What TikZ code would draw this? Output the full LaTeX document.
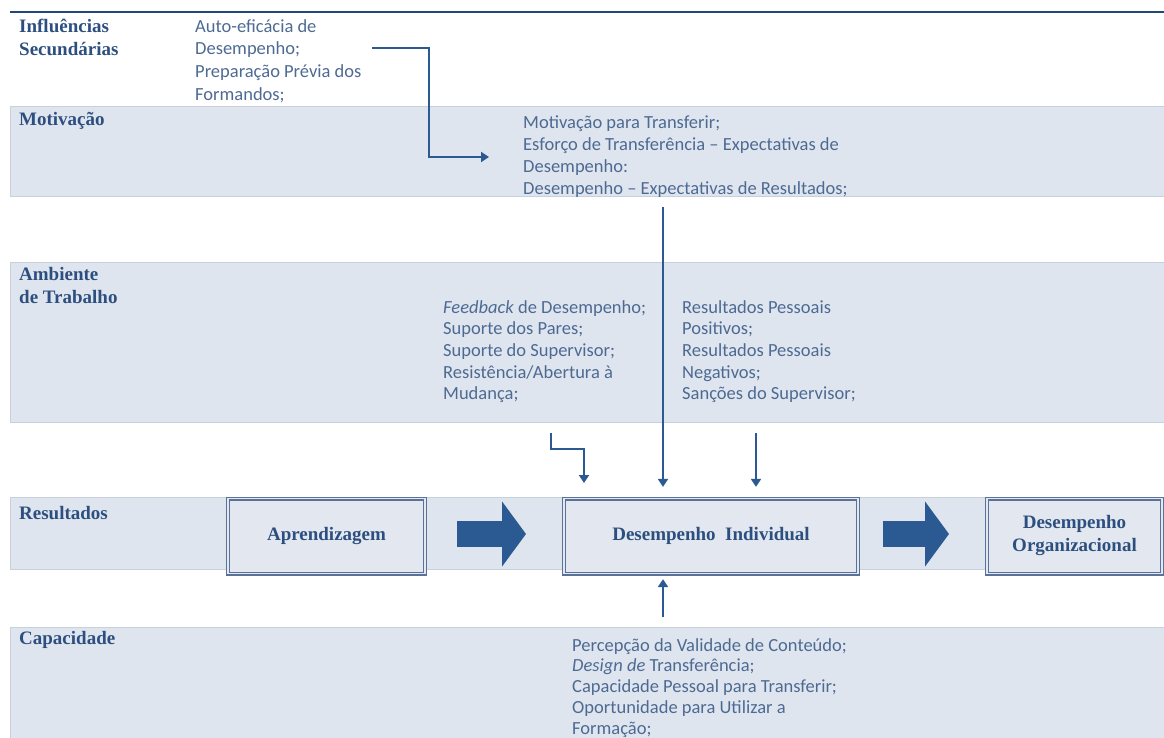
\documentclass[tikz,border=0pt]{standalone}
\usepackage{fontspec}
\setmainfont{Liberation Serif}
\newfontfamily\bodyfont{Carlito}
\usetikzlibrary{arrows.meta}

\definecolor{bandfill}{HTML}{DFE5EE}
\definecolor{bandedge}{HTML}{C8D0DB}
\definecolor{boxfill}{HTML}{E3E8F0}
\definecolor{boxline}{HTML}{5B7298}
\definecolor{labelblue}{HTML}{2D4F80}
\definecolor{textblue}{HTML}{4D6A93}
\definecolor{arrowblue}{HTML}{2B5A92}

\begin{document}
\begin{tikzpicture}[x=1pt,y=-1pt,
  band/.style={fill=bandfill,draw=bandedge,line width=0.8pt},
  rowlabel/.style={anchor=north west,inner sep=0pt,align=left,text=labelblue,
    font=\bfseries\fontsize{19}{23}\selectfont},
  itemtext/.style={anchor=north west,inner sep=0pt,align=left,text=textblue,
    font=\bodyfont\fontsize{18.5}{21.7}\selectfont},
  result/.style={draw=boxline,line width=1.3pt,double=boxfill,double distance=1.4pt,
    fill=boxfill,minimum height=75pt,align=center,text=labelblue,
    font=\bfseries\fontsize{19}{23}\selectfont},
  conn/.style={draw=arrowblue,line width=2.2pt,-{Triangle[length=8pt,width=10pt]}},
  fatarrow/.style={draw=arrowblue,line width=26pt,-{Triangle[length=24pt,width=64pt]}}]

  \useasboundingbox (0,0) rectangle (1164,738);

  % bands
  \draw[line width=1.8pt,arrowblue!80!black] (10,12) -- (1164,12);
  \draw[band] (10,106) rectangle (1164,196);
  \draw[band] (10,262) rectangle (1164,422);
  \draw[band] (10,497) rectangle (1164,569);
  \draw[band] (10,627) rectangle (1164,745);

  % row labels
  \node[rowlabel] (linf) at (19,19) {Influências\\Secundárias};
  \node[rowlabel] (lmot) at (19,112) {Motivação};
  \node[rowlabel] (lamb) at (19,267) {Ambiente\\de Trabalho};
  \node[rowlabel] (lres) at (19,506) {Resultados};
  \node[rowlabel] (lcap) at (19,631) {Capacidade};

  % factors
  \node[itemtext,font=\bodyfont\fontsize{18.5}{22.7}\selectfont] (tinf) at (195,19) {Auto-eficácia de\\Desempenho;\\Preparação Prévia dos\\Formandos;};
  \node[itemtext] (tmot) at (523,116) {Motivação para Transferir;\\Esforço de Transferência – Expectativas de\\Desempenho:\\Desempenho – Expectativas de Resultados;};
  \node[itemtext] (tamb) at (443,300) {\textit{Feedback} de Desempenho;\\Suporte dos Pares;\\Suporte do Supervisor;\\Resistência/Abertura à\\Mudança;};
  \node[itemtext] (tsan) at (682,300) {Resultados Pessoais\\Positivos;\\Resultados Pessoais\\Negativos;\\Sanções do Supervisor;};
  \node[itemtext,font=\bodyfont\fontsize{18.5}{20.8}\selectfont] (tcap) at (572,638) {Percepção da Validade de Conteúdo;\\\textit{Design de} Transferência;\\Capacidade Pessoal para Transferir;\\Oportunidade para Utilizar  a\\Formação;};

  % outcomes
  \node[result,minimum width=197pt] (aprend) at (326.5,536) {Aprendizagem};
  \node[result,minimum width=294pt] (desind) at (711,536) {Desempenho\ \ Individual};
  \node[result,minimum width=175pt] (desorg) at (1074.5,536) {Desempenho\\Organizacional};

  \coordinate (f1a) at (457,534);
  \coordinate (f1b) at (526,534);
  \coordinate (f2a) at (883,534);
  \coordinate (f2b) at (949,534);
  \draw[fatarrow] (f1a) -- (f1b);
  \draw[fatarrow] (f2a) -- (f2b);

  % connectors
  \coordinate (infend) at (372,48);
  \coordinate (motin) at (489,157);
  \coordinate (motout) at (663,207);
  \coordinate (ambout) at (551,433);
  \coordinate (sanout) at (756,433);
  \coordinate (capout) at (663,617);

  \draw[conn] (infend) -- (429,48) |- (motin);
  \draw[conn,shorten >=11pt] (motout) -- (motout |- desind.north);
  \draw[conn,shorten >=11pt] (ambout) -- (551,449) -| (584,494);
  \draw[conn,shorten >=11pt] (sanout) -- (sanout |- desind.north);
  \draw[conn,shorten >=5pt] (capout) -- (capout |- desind.south);

\end{tikzpicture}
\end{document}
